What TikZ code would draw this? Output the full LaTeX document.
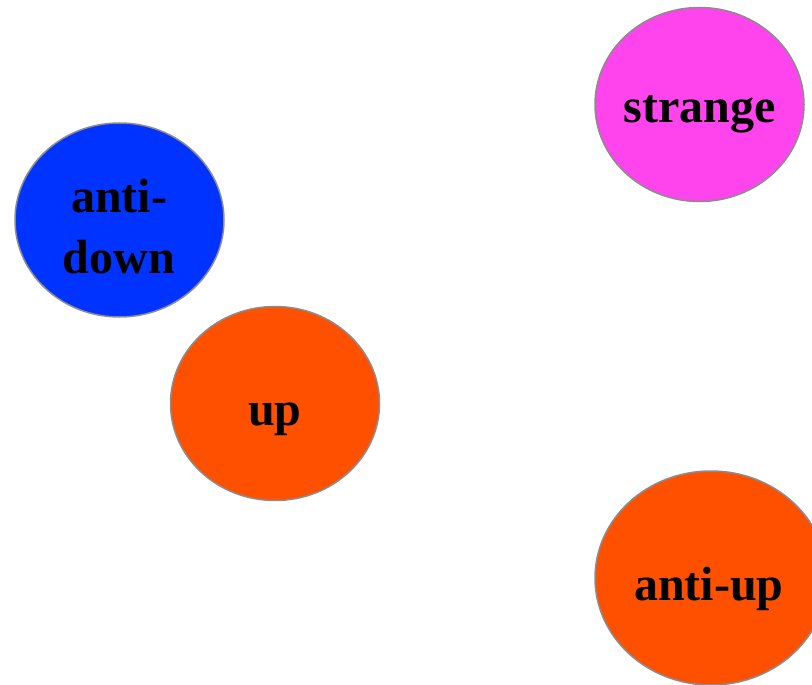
\documentclass[tikz,border=0pt]{standalone}
\usepackage{fontspec}
\setmainfont{Liberation Serif}
\usetikzlibrary{shapes.geometric}
\definecolor{cblue}{HTML}{0033FF}
\definecolor{corange}{HTML}{FF5000}
\definecolor{cmag}{HTML}{FF44EE}
\definecolor{cedge}{HTML}{8C8C8C}
\tikzset{
  quark/.style={ellipse, draw=cedge, line width=1.5pt, inner sep=0pt,
    minimum width=209pt, minimum height=194pt},
  lbl/.style={anchor=base, inner sep=0pt, text=black,
    font=\fontsize{48}{60}\selectfont\bfseries}
}
\begin{document}
\begin{tikzpicture}[x=1pt,y=-1pt]
\useasboundingbox (0,0) rectangle (812,685);
\clip (0,0) rectangle (812,685);
\node[quark, fill=cmag] (strange) at (699.5,104.5) {};
\node[quark, fill=cblue] (antidown) at (119.5,220) {};
\node[quark, fill=corange] (up) at (275,403.5) {};
\node[quark, fill=corange, minimum width=232pt, minimum height=214pt] (antiup) at (711,578) {};
\node[lbl] (strange-t) at (699.5,122) {strange};
\node[lbl] (antidown-t1) at (119,212) {anti-};
\node[lbl] (antidown-t2) at (119,273) {down};
\node[lbl] (up-t) at (275,425) {up};
\node[lbl] (antiup-t) at (709,600) {anti-up};
\end{tikzpicture}
\end{document}
